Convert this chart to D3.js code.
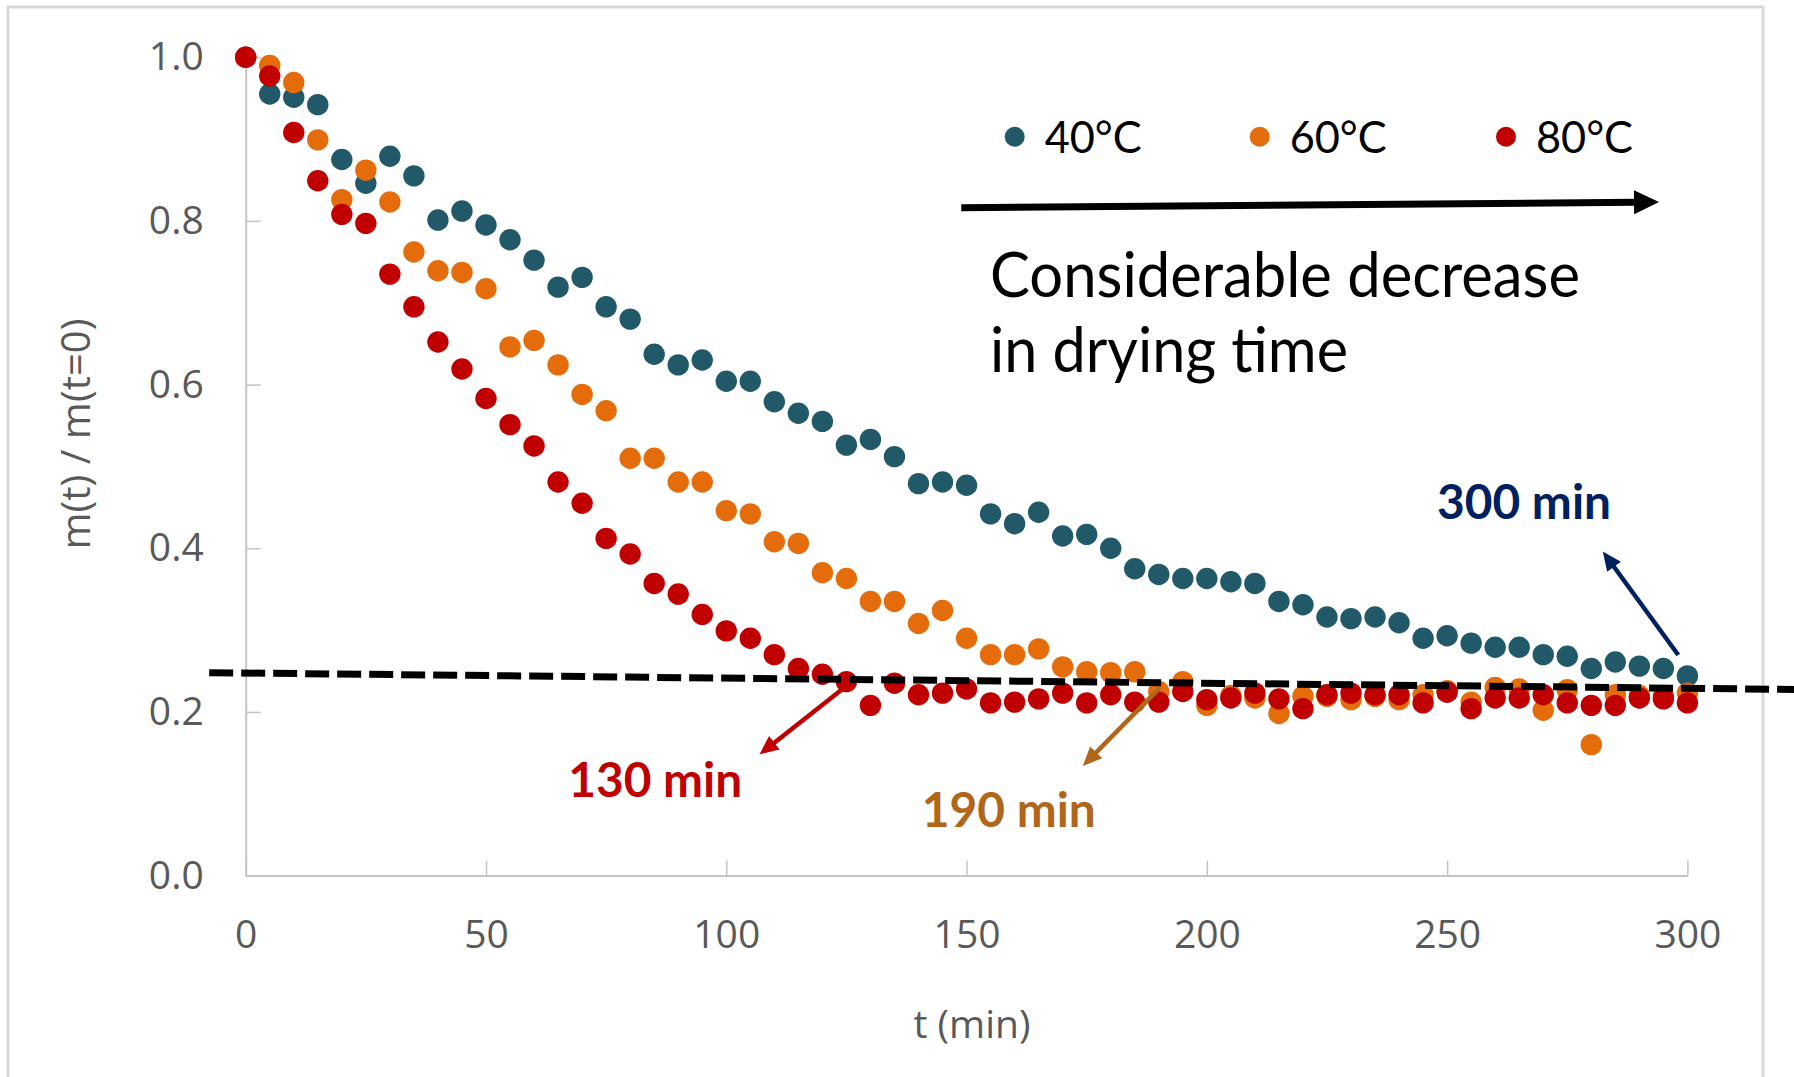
<!DOCTYPE html>
<html>
<head>
<meta charset="utf-8">
<script src="https://cdn.jsdelivr.net/npm/d3@7"></script>
<style>
  body { margin: 0; background: #fff; }
  svg { display: block; }
</style>
</head>
<body>
<svg class="chart"></svg>
<script>
var times = [0, 5, 10, 15, 20, 25, 30, 35, 40, 45, 50, 55, 60, 65, 70, 75, 80, 85, 90, 95,
    100, 105, 110, 115, 120, 125, 130, 135, 140, 145, 150, 155, 160, 165, 170, 175, 180, 185, 190, 195,
    200, 205, 210, 215, 220, 225, 230, 235, 240, 245, 250, 255, 260, 265, 270, 275, 280, 285, 290, 295, 300];

var m40 = [1.000, 0.955, 0.951, 0.942, 0.875, 0.846, 0.879, 0.855, 0.801, 0.812, 0.795, 0.777, 0.752, 0.719, 0.731, 0.695,
    0.680, 0.637, 0.624, 0.630, 0.604, 0.604, 0.579, 0.565, 0.555, 0.526, 0.533, 0.512, 0.479, 0.481, 0.477, 0.442,
    0.430, 0.444, 0.415, 0.417, 0.400, 0.375, 0.368, 0.363, 0.363, 0.359, 0.357, 0.335, 0.331, 0.316, 0.314, 0.316,
    0.309, 0.290, 0.293, 0.284, 0.279, 0.279, 0.270, 0.268, 0.253, 0.261, 0.256, 0.253, 0.244];

var m60 = [1.000, 0.990, 0.969, 0.899, 0.826, 0.862, 0.823, 0.762, 0.739, 0.737, 0.717, 0.646, 0.654, 0.624, 0.588, 0.568,
    0.510, 0.510, 0.481, 0.481, 0.446, 0.442, 0.408, 0.406, 0.370, 0.363, 0.335, 0.335, 0.308, 0.324, 0.290, 0.270,
    0.270, 0.277, 0.255, 0.249, 0.248, 0.249, 0.225, 0.237, 0.208, 0.220, 0.217, 0.198, 0.219, 0.219, 0.215, 0.219,
    0.215, 0.221, 0.226, 0.212, 0.230, 0.228, 0.202, 0.227, 0.160, 0.221, 0.220, 0.220, 0.223];

var m80 = [1.000, 0.977, 0.908, 0.849, 0.808, 0.797, 0.735, 0.695, 0.652, 0.619, 0.583, 0.551, 0.525, 0.481, 0.455, 0.412,
    0.393, 0.357, 0.344, 0.319, 0.299, 0.290, 0.270, 0.253, 0.246, 0.237, 0.208, 0.235, 0.221, 0.223, 0.228, 0.211,
    0.212, 0.216, 0.223, 0.211, 0.221, 0.212, 0.212, 0.225, 0.215, 0.217, 0.223, 0.216, 0.204, 0.221, 0.223, 0.221,
    0.221, 0.211, 0.224, 0.204, 0.217, 0.217, 0.221, 0.211, 0.208, 0.208, 0.217, 0.216, 0.211];

var seriesNames = ["40°C", "60°C", "80°C"];
var seriesColors = ["#215968", "#E46C0A", "#C00000"];

var xTicks = [0, 50, 100, 150, 200, 250, 300];
var yTicks = [0, 0.2, 0.4, 0.6, 0.8, 1.0];

// threshold line and arrows, in data units [t, m]
var cutLine = [[-7.6, 0.248], [322.2, 0.2275]];
var arrows = [
    {from: [148.9, 0.816], to: [294.1, 0.823], color: "#000000"},
    {from: [124.4, 0.229], to: [106.9, 0.148], color: "#C00000"},
    {from: [190.3, 0.230], to: [174.2, 0.134], color: "#B0671A"},
    {from: [298.1, 0.2695], to: [282.4, 0.396], color: "#002060"}
];
var timeLabels = [
    {text: "130 min", at: [67.1, 0.096], color: "#C00000"},
    {text: "190 min", at: [140.7, 0.059], color: "#B0671A"},
    {text: "300 min", at: [247.9, 0.436], color: "#002060"}
];

function show() {

    'use strict';
    var width = 1794,
        height = 1077;

    var svg = d3.select(".chart")
        .attr("width", width)
        .attr("height", height);

    var x = d3.scaleLinear().domain([0, 300]).range([245.7, 1687.4]);
    var y = d3.scaleLinear().domain([0, 1]).range([875.6, 57.2]);

    svg.append("rect")
        .attr("x", 8).attr("y", 7)
        .attr("width", 1755).attr("height", 1100)
        .attr("fill", "#fff")
        .attr("stroke", "#d9d9d9")
        .attr("stroke-width", 3);

    var xAxis = svg.append("g")
        .attr("transform", "translate(0," + y(0) + ")")
        .call(d3.axisBottom(x).tickValues(xTicks).tickSizeInner(-15).tickSizeOuter(0).tickPadding(45));

    var yAxis = svg.append("g")
        .attr("transform", "translate(" + x(0) + ",0)")
        .call(d3.axisLeft(y).tickValues(yTicks).tickSizeInner(-15).tickSizeOuter(0).tickPadding(42)
            .tickFormat(d3.format(".1f")));

    [xAxis, yAxis].forEach(function(g) {
        g.select(".domain").attr("stroke", "#c4c4c4").attr("stroke-width", 2);
        g.selectAll(".tick line").attr("stroke", "#c4c4c4").attr("stroke-width", 1.5);
        g.selectAll("text")
            .attr("font-family", "'Open Sans', sans-serif")
            .attr("font-size", 39)
            .attr("fill", "#595959");
    });

    svg.append("text")
        .attr("transform", "translate(76,434) rotate(-90)")
        .attr("dy", "0.35em")
        .attr("text-anchor", "middle")
        .attr("font-family", "'Open Sans', sans-serif")
        .attr("font-size", 40)
        .attr("fill", "#595959")
        .text("m(t) / m(t=0)");

    svg.append("text")
        .attr("x", 972).attr("y", 1038)
        .attr("text-anchor", "middle")
        .attr("font-family", "'Open Sans', sans-serif")
        .attr("font-size", 39)
        .attr("fill", "#595959")
        .text("t (min)");

    [m40, m60, m80].forEach(function(vals, s) {
        svg.append("g").selectAll("circle").data(times).enter()
            .append("circle")
            .attr("cx", function(d) {return x(d)})
            .attr("cy", function(d, i) {return y(vals[i])})
            .attr("r", 10.7)
            .attr("fill", seriesColors[s]);
    });

    svg.append("line")
        .attr("x1", x(cutLine[0][0])).attr("y1", y(cutLine[0][1]))
        .attr("x2", x(cutLine[1][0])).attr("y2", y(cutLine[1][1]))
        .attr("stroke", "#000")
        .attr("stroke-width", 7)
        .attr("stroke-dasharray", "24 8");

    arrows.forEach(function(a, i) {
        var big = i === 0;
        drawArrow(x(a.from[0]), y(a.from[1]), x(a.to[0]), y(a.to[1]), a.color,
            big ? 7 : 4.5, big ? 25 : 19, big ? 24 : 17);
    });

    function drawArrow(x1, y1, x2, y2, color, w, hl, hw) {
        var ang = Math.atan2(y2 - y1, x2 - x1),
            c = Math.cos(ang), s = Math.sin(ang),
            bx = x2 - hl * c, by = y2 - hl * s;
        svg.append("line")
            .attr("x1", x1).attr("y1", y1)
            .attr("x2", bx + 2 * c).attr("y2", by + 2 * s)
            .attr("stroke", color)
            .attr("stroke-width", w);
        svg.append("path")
            .attr("d", "M" + x2 + "," + y2 +
                "L" + (bx + hw / 2 * s) + "," + (by - hw / 2 * c) +
                "L" + (bx - hw / 2 * s) + "," + (by + hw / 2 * c) + "Z")
            .attr("fill", color);
    }

    timeLabels.forEach(function(l) {
        svg.append("text")
            .attr("x", x(l.at[0])).attr("y", y(l.at[1]))
            .attr("font-family", "Lato, sans-serif")
            .attr("font-weight", "bold")
            .attr("font-size", 48)
            .attr("fill", l.color)
            .attr("textLength", 174)
            .attr("lengthAdjust", "spacingAndGlyphs")
            .text(l.text);
    });

    var legendDotX = [1014.7, 1259.7, 1506];
    var legend = svg.append("g").selectAll("g").data(seriesNames).enter().append("g");
    legend.append("circle")
        .attr("cx", function(d, i) {return legendDotX[i]})
        .attr("cy", 136.7)
        .attr("r", 10)
        .attr("fill", function(d, i) {return seriesColors[i]});
    legend.append("text")
        .attr("x", function(d, i) {return legendDotX[i] + 30})
        .attr("y", 152.7)
        .attr("font-family", "Lato, sans-serif")
        .attr("font-size", 44)
        .attr("fill", "#000")
        .attr("textLength", 97)
        .attr("lengthAdjust", "spacingAndGlyphs")
        .text(function(d) {return d});

    var note = svg.append("g")
        .attr("font-family", "Lato, sans-serif")
        .attr("font-size", 62)
        .attr("fill", "#000");
    note.append("text").attr("x", 990).attr("y", 297)
        .attr("textLength", 590).attr("lengthAdjust", "spacingAndGlyphs")
        .text("Considerable decrease");
    note.append("text").attr("x", 990).attr("y", 372)
        .attr("textLength", 358).attr("lengthAdjust", "spacingAndGlyphs")
        .text("in drying time");
}
show();
</script>
</body>
</html>
